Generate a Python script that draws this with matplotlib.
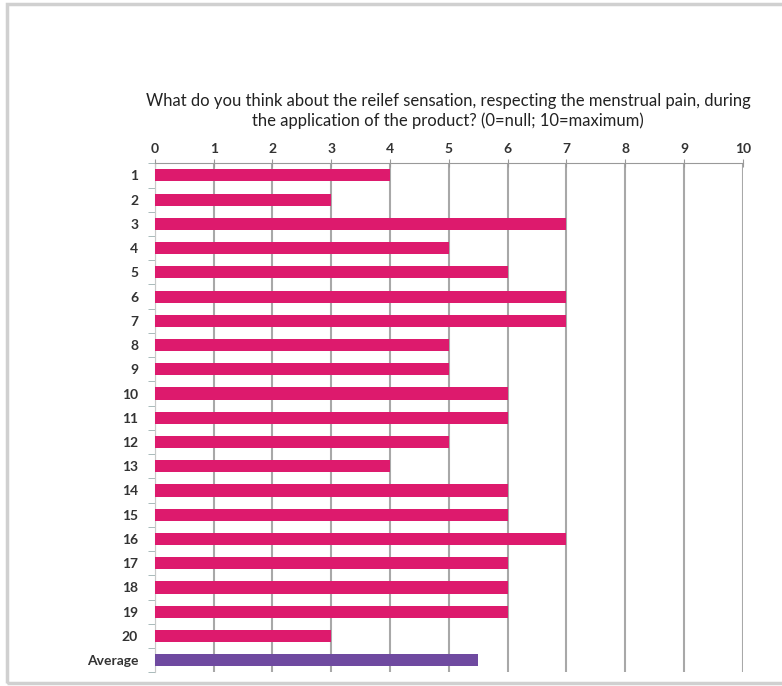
import matplotlib.pyplot as plt
from matplotlib.patches import Rectangle

labels = [str(i) for i in range(1, 21)] + ['Average']
scores = [4, 3, 7, 5, 6, 7, 7, 5, 5, 6, 6, 5, 4, 6, 6, 7, 6, 6, 6, 3]
average = sum(scores) / len(scores)
values = scores + [average]
colors = ['#dd1a6d'] * len(scores) + ['#6f4aa0']
xticks = list(range(0, 11))

title = ("What do you think about the reilef sensation, respecting the menstrual pain, during\n"
         "the application of the product? (0=null; 10=maximum)")

plt.rcParams['font.family'] = ['Lato', 'DejaVu Sans']

fig = plt.figure(figsize=(7.82, 6.86), dpi=100)
# outer frame of the picture
fig.patches.append(Rectangle((0.009, 0.004), 1.2, 0.99, transform=fig.transFigure,
                             fill=False, edgecolor='#d0d0d0', linewidth=2.5))
ax = fig.add_axes([0.198, 0.020, 0.752, 0.742])

y = list(range(len(labels)))
ax.barh(y, values, height=0.5, color=colors, zorder=3)
ax.set_ylim(len(labels) - 0.5, -0.5)
ax.set_xlim(0, 10)

ax.xaxis.tick_top()
ax.set_xticks(xticks)
ax.set_xticklabels([str(t) for t in xticks], fontsize=10, fontweight='bold', color='#333333')
ax.tick_params(axis='x', direction='inout', length=6, color='#999999', pad=3)
ax.grid(axis='x', color='#a8a8a8', linewidth=1.5, zorder=0)

ax.set_yticks(y)
ax.set_yticklabels(labels, fontsize=10, fontweight='bold', color='#333333')
ax.set_yticks([i + 0.5 for i in range(-1, len(labels))], minor=True)
ax.tick_params(axis='y', which='major', length=0, pad=12)
ax.tick_params(axis='y', which='minor', length=5, color='#9ab0b0')

for s in ['right', 'bottom']:
    ax.spines[s].set_visible(False)
ax.spines['top'].set_color('#999999')
ax.spines['left'].set_color('#c8c8c8')

fig.text(0.573, 0.838, title, ha='center', va='center', fontsize=12,
         color='#222222', linespacing=1.25)

fig.savefig('out.png', dpi=100)
